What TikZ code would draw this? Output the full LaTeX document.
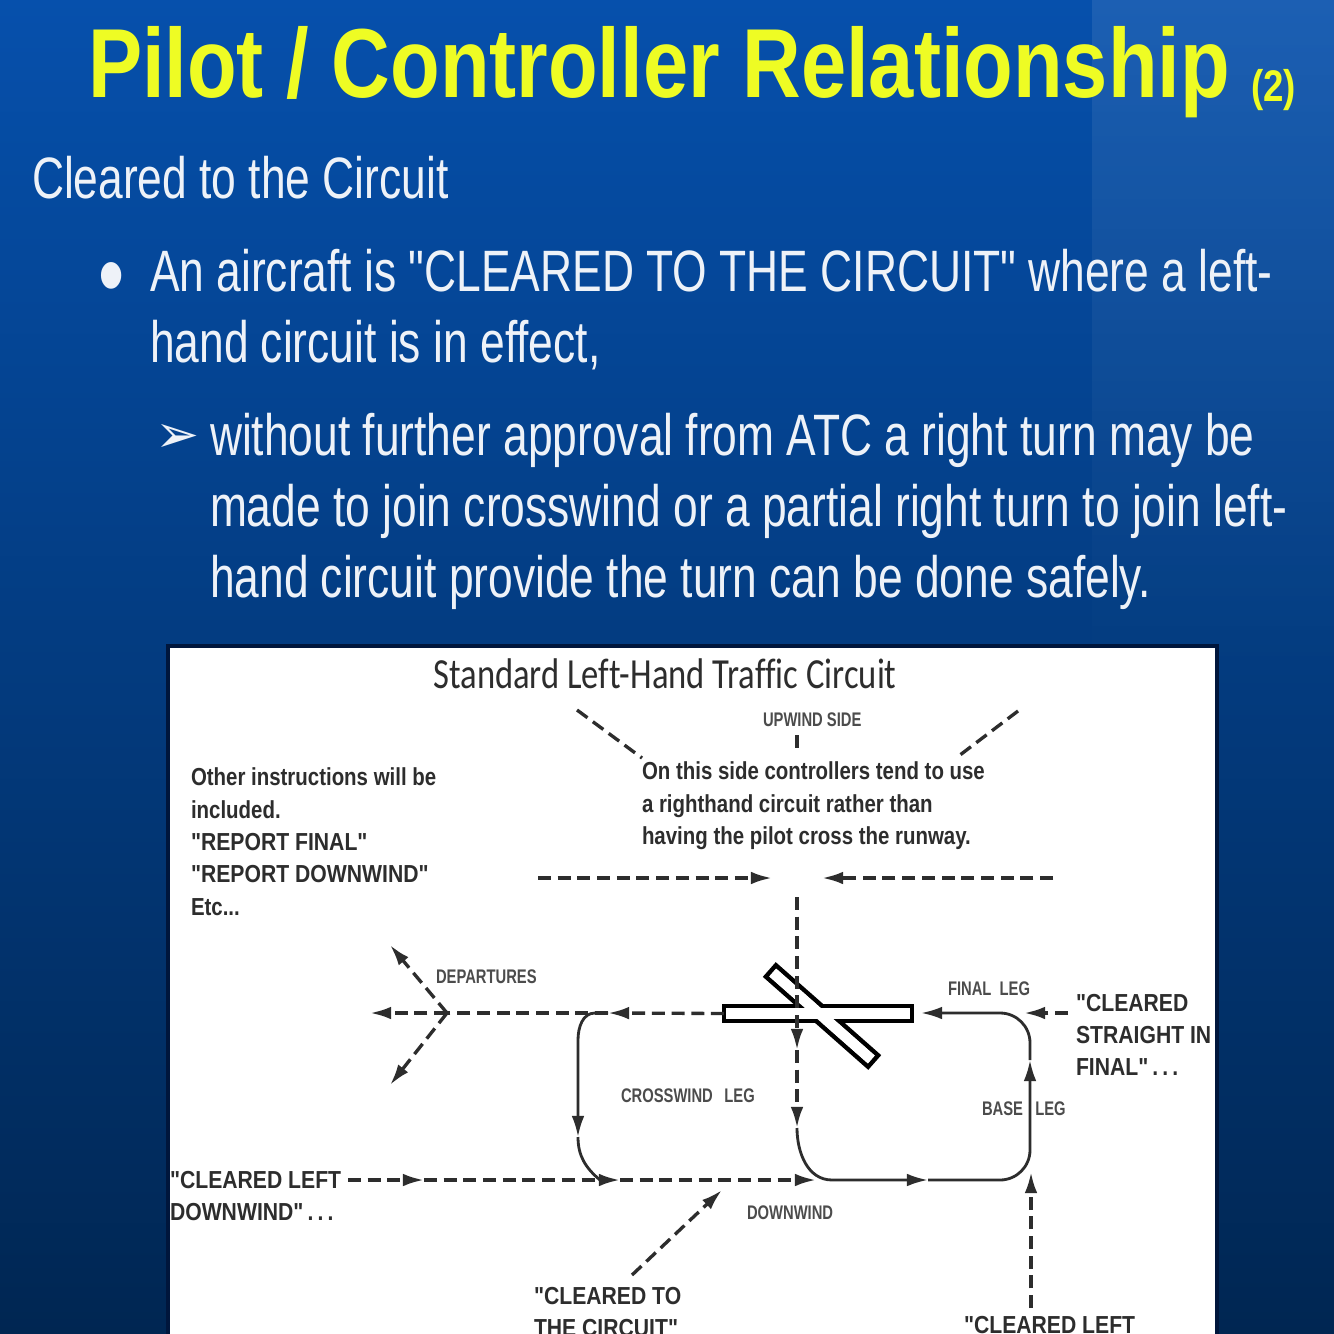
\documentclass[tikz,border=0pt]{standalone}
\usepackage{fontspec}
\usepackage{xcolor}
\setmainfont{Liberation Sans}
\newfontfamily\slidefont[FakeStretch=.76]{Liberation Sans}
\newfontfamily\titlefont[FakeStretch=.828,UprightFont=* Bold]{Liberation Sans}
\newfontfamily\capsfont[FakeStretch=.86,UprightFont=* Bold]{Liberation Sans}
\newfontfamily\inkfont[FakeStretch=.83,UprightFont=* Bold]{Liberation Sans}
\newfontfamily\labelfont[FakeStretch=.75,UprightFont=* Bold]{Liberation Sans}
\newfontfamily\boxtitlefont[FakeStretch=.806,RawFeature=-liga]{Carlito}
\newfontfamily\symbolfont{DejaVu Sans}
\usepackage{tikz}
\definecolor{slidetop}{RGB}{6,80,172}
\definecolor{slidemid}{RGB}{2,64,135}
\definecolor{slidelow}{RGB}{0,38,82}
\definecolor{slideyellow}{RGB}{238,252,36}
\definecolor{slidetext}{RGB}{238,242,248}
\definecolor{inktext}{RGB}{45,45,45}
\definecolor{panelrim}{RGB}{0,22,60}
\usetikzlibrary{arrows.meta,fadings}
\begin{document}
\begin{tikzpicture}[x=0.01cm, y=-0.01cm,
			>={Latex[length=6pt,width=3.6pt]},   %arrow tips
			solidleg/.style={draw=inktext, line width=.8pt},
			dashleg/.style={draw=inktext, line width=.95pt, dash pattern=on 3.7pt off 1.9pt},
			txt/.style={inner sep=0pt, outer sep=0pt, align=left, anchor=north west},
			bodytxt/.style={txt, text=slidetext, font=\slidefont\fontsize{16.6}{20.2}\selectfont},
			inktxt/.style={txt, text=inktext, font=\inkfont\fontsize{7}{9.2}\selectfont},
			capstxt/.style={txt, text=inktext, font=\capsfont\fontsize{7}{9.2}\selectfont},
			smalltxt/.style={txt, text=inktext!85, font=\labelfont\fontsize{5.6}{7}\selectfont},
			runway/.style={draw=black, line width=1.3pt, minimum height=15*0.2845pt, inner sep=0pt, outer sep=0pt},
			runwayfill/.style={fill=white, minimum height=10.5*0.2845pt, inner sep=0pt, outer sep=0pt}]
			\useasboundingbox (0,0) rectangle (1334,1334);
			\clip (0,0) rectangle (1334,1334);
			%background
			\shade[top color=slidetop, middle color=slidemid, bottom color=slidelow] (0,0) rectangle (1334,1334);
			\fill[white, opacity=.09, path fading=south] (1092,0) rectangle (1334,700);
			%slide text
			\node[txt, anchor=base west, text=slideyellow, font=\titlefont\fontsize{27.9}{30}\selectfont] (title) at (88,98) {Pilot / Controller Relationship};
			\node[txt, anchor=base west, text=slideyellow, font=\titlefont\fontsize{12.6}{14}\selectfont] (titlenum) at (1251,102) {(2)};
			\node[bodytxt, anchor=base west] (heading) at (32,199) {Cleared to the Circuit};
			\node[txt, anchor=center, text=slidetext, font=\slidefont\fontsize{28}{30}\selectfont] (bulletone) at (112,286) {•};
			\node[bodytxt] (lineone) at (150,249) {An aircraft is "CLEARED TO THE CIRCUIT" where a left-\\hand circuit is in effect,};
			\node[txt, anchor=center, text=slidetext, font=\symbolfont\fontsize{15}{17}\selectfont] (bullettwo) at (178,438) {➢};
			\node[bodytxt] (linetwo) at (210,413) {without further approval from ATC a right turn may be\\made to join crosswind or a partial right turn to join left-\\hand circuit provide the turn can be done safely.};
			%white panel
			\filldraw[fill=white, draw=panelrim, line width=.9pt] (168,646) rectangle (1217,1360);
			\node[txt, anchor=base, text=inktext, font=\boxtitlefont\fontsize{12.2}{14}\selectfont] (paneltitle) at (665,688) {Standard Left-Hand Traffic Circuit};
			%labels
			\node[inktxt] (other) at (191,768) {Other instructions will be\\included.\\{\capsfont "REPORT FINAL"}\\{\capsfont "REPORT DOWNWIND"}\\Etc...};
			\node[inktxt] (thisside) at (642,762) {On this side controllers tend to use\\a righthand circuit rather than\\having the pilot cross the runway.};
			\node[smalltxt] (upwind) at (763,713) {UPWIND SIDE};
			\node[smalltxt] (departures) at (436,970) {DEPARTURES};
			\node[smalltxt] (finalleg) at (948,982) {FINAL\ \ LEG};
			\node[smalltxt] (crosswind) at (621,1089) {CROSSWIND\ \ \,LEG};
			\node[smalltxt] (baseleg) at (982,1102) {BASE\ \ \ LEG};
			\node[smalltxt] (downwind) at (747,1206) {DOWNWIND};
			\node[capstxt] (straightin) at (1076,994) {"CLEARED\\STRAIGHT IN\\FINAL"\,.\,.\,.};
			\node[capstxt] (leftdown) at (170,1171) {"CLEARED LEFT\\DOWNWIND"\,.\,.\,.};
			\node[capstxt] (tocircuit) at (534,1287) {"CLEARED TO\\THE CIRCUIT"};
			\node[capstxt] (leftbase) at (964,1316) {"CLEARED LEFT};
			%runways
			\node[runway, minimum width=188*0.2845pt] (rwymain) at (818,1013.5) {};
			\node[runway, minimum width=136*0.2845pt, rotate=-41.4] (rwycross) at (822,1016) {};
			\node[runwayfill, minimum width=183.5*0.2845pt] (rwymainw) at (818,1013.5) {};
			\node[runwayfill, minimum width=131.5*0.2845pt, rotate=-41.4] (rwycrossw) at (822,1016) {};
			%points of the circuit
			\coordinate (depmid) at (447,1013);
			\coordinate (depleft) at (370,1013);
			\coordinate (depup) at (390,945);
			\coordinate (depdown) at (390,1085);
			\coordinate (upa) at (577,710);
			\coordinate (upb) at (642,758);
			\coordinate (upc) at (1018,711);
			\coordinate (upd) at (960,755);
			\coordinate (upe) at (797,735);
			\coordinate (upf) at (797,752);
			\coordinate (arra) at (538,878);
			\coordinate (arrb) at (772,878);
			\coordinate (arrc) at (1053,878);
			\coordinate (arrd) at (822,878);
			\coordinate (verttop) at (797,897);
			\coordinate (vertmid) at (797,1050);
			\coordinate (vertlow) at (797,1128);
			\coordinate (downstart) at (348,1180);
			\coordinate (downa) at (424,1180);
			\coordinate (downb) at (620,1180);
			\coordinate (downc) at (816,1180);
			\coordinate (downd) at (928,1180);
			\coordinate (basearrow) at (1030,1060);
			\coordinate (finalend) at (921,1013);
			\coordinate (straightstart) at (1068,1013);
			\coordinate (straightend) at (1024,1013);
			\coordinate (leftbasestart) at (1031,1308);
			\coordinate (leftbaseend) at (1031,1172);
			\coordinate (circstart) at (632,1275);
			\coordinate (circend) at (722,1190);
			\coordinate (crossarrow) at (608,1013);
			\coordinate (crossarr) at (578,1137);
			%dashed legs
			\draw[dashleg] (upa) -- (upb);
			\draw[dashleg] (upc) -- (upd);
			\draw[dashleg] (upe) -- (upf);
			\draw[dashleg,->] (arra) -- (arrb);
			\draw[dashleg,->] (arrc) -- (arrd);
			\draw[dashleg,->] (verttop) -- (vertmid);
			\draw[dashleg,->] (vertmid) -- (vertlow);
			\draw[dashleg,->] (rwymain.west) -- (crossarrow);
			\draw[dashleg] (crossarrow) -- (depmid);
			\draw[dashleg,->] (depmid) -- (depleft);
			\draw[dashleg,->] (depmid) -- (depup);
			\draw[dashleg,->] (depmid) -- (depdown);
			\draw[dashleg,->] (downstart) -- (downa);
			\draw[dashleg,->] (downa) -- (downb);
			\draw[dashleg,->] (downb) -- (downc);
			\draw[dashleg,->] (straightstart) -- (straightend);
			\draw[dashleg,->] (leftbasestart) -- (leftbaseend);
			\draw[dashleg,->] (circstart) -- (circend);
			%solid legs
			\draw[solidleg,->] (crossarrow) -- (595,1013) to[out=180,in=90] (578,1040) -- (crossarr);
			\draw[solidleg] (crossarr) to[out=270,in=140] (600,1180);
			\draw[solidleg,->] (vertlow) to[out=270,in=180] (832,1180) -- (downd);
			\draw[solidleg,->] (downd) -- (1000,1180) to[out=0,in=270] (1030,1150) -- (basearrow);
			\draw[solidleg,->] (basearrow) -- (1030,1043) to[out=90,in=0] (1000,1013) -- (finalend);
		\end{tikzpicture}
\end{document}
